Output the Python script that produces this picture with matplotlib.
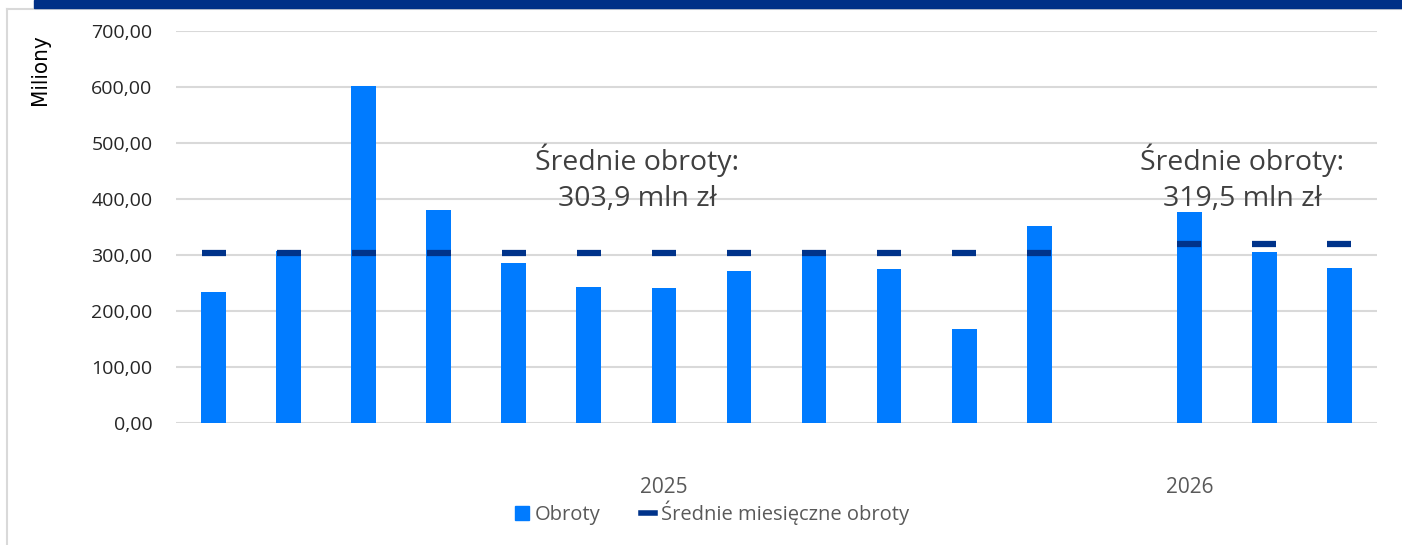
import matplotlib
matplotlib.use("Agg")
import matplotlib.pyplot as plt
from matplotlib.lines import Line2D
from matplotlib.patches import Rectangle

# Data
months_2025 = ["I", "II", "III", "IV", "V", "VI", "VII", "VIII", "IX", "X", "XI", "XII"]
obroty_2025 = [234, 307, 601, 380, 285, 242, 241, 271, 300, 275, 168, 352]
months_2026 = ["I", "II", "III"]
obroty_2026 = [377, 305, 276]
avg_2025 = 303.9
avg_2026 = 319.5
yticks = [0, 100, 200, 300, 400, 500, 600, 700]
years = ["2025", "2026"]

BAR = "#007BFF"
NAVY = "#00338A"
FONT = ["Open Sans", "DejaVu Sans"]
plt.rcParams["font.family"] = FONT

fig = plt.figure(figsize=(14.02, 5.45), dpi=100)
ax = fig.add_axes([176 / 1402, 1 - 423 / 545, 1201 / 1402, 392 / 545])

# positions: 2025 in slots 0..11, empty slot 12, 2026 in slots 13..15
x25 = list(range(len(obroty_2025)))
x26 = [len(obroty_2025) + 1 + i for i in range(len(obroty_2026))]

ax.bar(x25, obroty_2025, width=0.33, color=BAR, zorder=2)
ax.bar(x26, obroty_2026, width=0.33, color=BAR, zorder=2)

ax.plot(x25, [avg_2025] * len(x25), linestyle="none", marker="_", markersize=17.5,
        markeredgewidth=4.5, color=NAVY, zorder=3)
ax.plot(x26, [avg_2026] * len(x26), linestyle="none", marker="_", markersize=17.5,
        markeredgewidth=4.5, color=NAVY, zorder=3)

ax.set_xlim(-0.5, x26[-1] + 0.5)
ax.set_ylim(0, 700)
ax.set_yticks(yticks)
ax.set_yticklabels([f"{v:.2f}".replace(".", ",") for v in yticks], fontsize=14, color="#262626")
ax.set_xticks([])
ax.grid(axis="y", color="#D9D9D9", linewidth=1.5, zorder=0)
for s in ax.spines.values():
    s.set_visible(False)
ax.tick_params(axis="y", length=0, pad=17)

# year labels
ax.text((x25[0] + len(obroty_2025)) / 2, -0.165, years[0], transform=ax.get_xaxis_transform(),
        ha="center", va="center", fontsize=15, color="#595959")
ax.text(x26[0], -0.165, years[1], transform=ax.get_xaxis_transform(),
        ha="center", va="center", fontsize=15, color="#595959")

# annotations
ax.text(5.64, 437, "Średnie obroty:\n" + f"{avg_2025:.1f}".replace(".", ",") + " mln zł",
        ha="center", va="center", fontsize=20.5, color="#404040", linespacing=1.42, zorder=4)
ax.text(13.7, 437, "Średnie obroty:\n" + f"{avg_2026:.1f}".replace(".", ",") + " mln zł",
        ha="center", va="center", fontsize=20.5, color="#404040", linespacing=1.42, zorder=4)

# y label
fig.text(40 / 1402, 1 - 70 / 545, "Miliony", rotation=90, ha="center", va="center",
         fontsize=16, color="#000000", family=["DejaVu Sans"], fontstretch="condensed")

# legend
handles = [Rectangle((0, 0), 1, 1, color=BAR),
           Line2D([0], [0], color=NAVY, linewidth=4)]
fig.legend(handles, ["Obroty", "Średnie miesięczne obroty"], loc="center",
           bbox_to_anchor=(712 / 1402, 1 - 513 / 545), ncol=2, frameon=False,
           fontsize=14.5, labelcolor="#595959", handlelength=0.7, handletextpad=0.3,
           columnspacing=2.0)

# top band and frame
fig.add_artist(Rectangle((34 / 1402, 1 - 8 / 545), 1, 8 / 545, transform=fig.transFigure,
                         color="#003087", zorder=5))
fig.add_artist(Line2D([7 / 1402, 7 / 1402], [0, 1 - 9 / 545], transform=fig.transFigure,
                      color="#D9D9D9", linewidth=1.5))
fig.add_artist(Line2D([7 / 1402, 1], [1 - 9 / 545, 1 - 9 / 545], transform=fig.transFigure,
                      color="#D9D9D9", linewidth=1.5))

fig.savefig("out.png", dpi=100)
